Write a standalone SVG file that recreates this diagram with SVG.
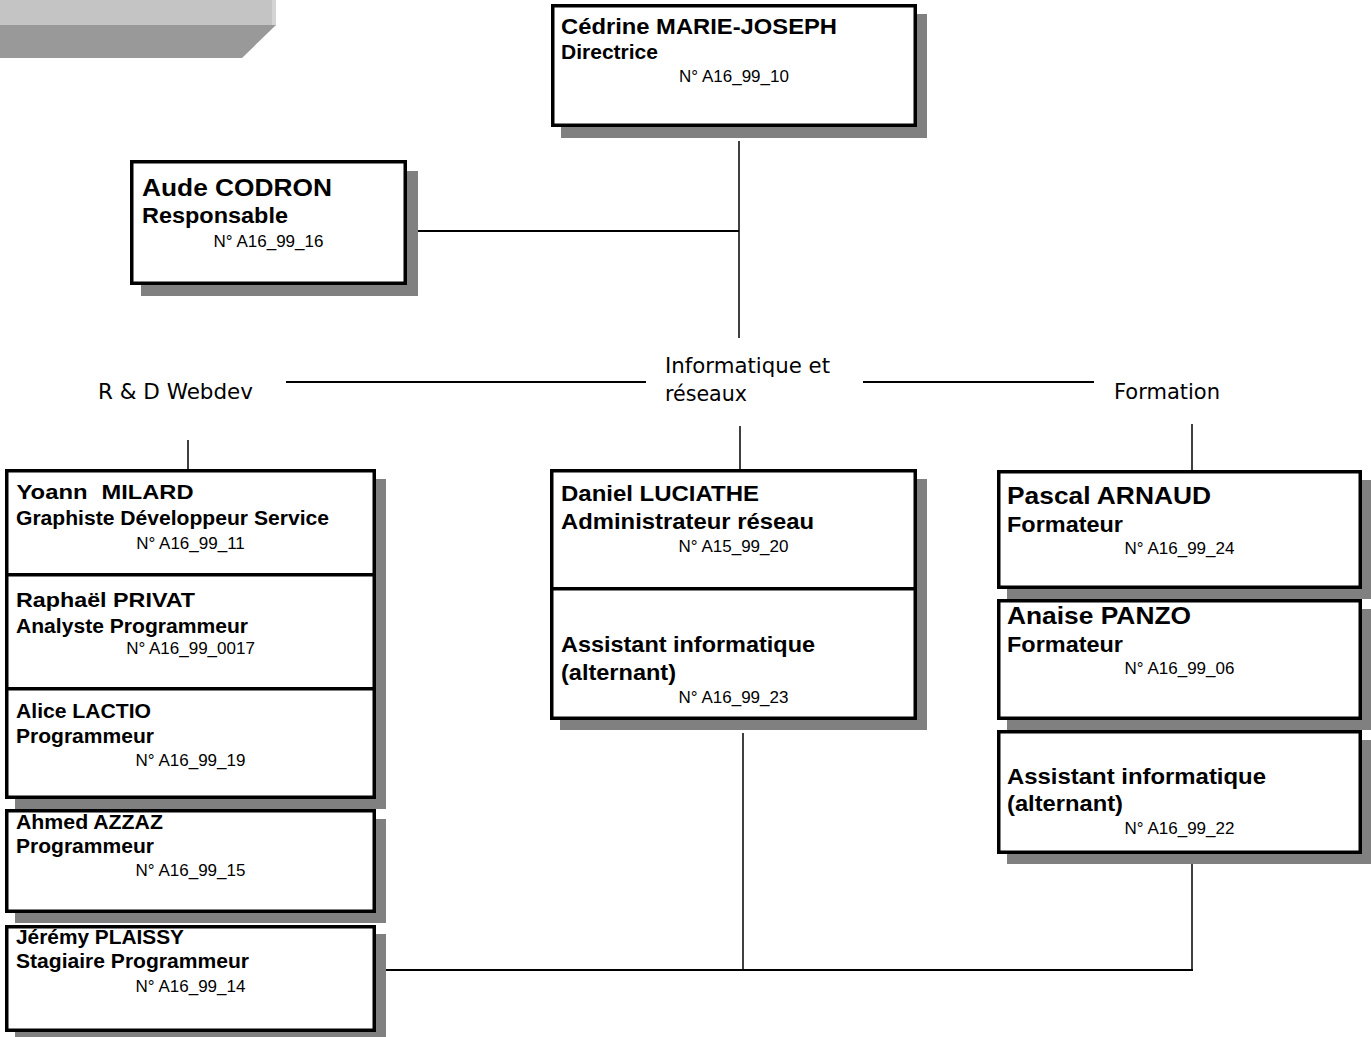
<svg xmlns="http://www.w3.org/2000/svg" width="1371" height="1037" viewBox="0 0 1371 1037">
<style>
.box{fill:#fff;stroke:#000;stroke-width:3.5}
.sh{fill:#808080}
.b{font-family:"Liberation Sans",Arial,sans-serif;font-weight:bold;fill:#000}
.r{font-family:"Liberation Sans",Arial,sans-serif;font-size:17px;fill:#000;text-anchor:middle}
.lbl{font-family:"DejaVu Sans",sans-serif;font-size:21px;fill:#000}
.ln{stroke:#000;stroke-width:2;fill:none}
.lv{stroke:#000;stroke-width:1.5;fill:none}
</style>
<g id="decor">
<rect x="0" y="0" width="276" height="26" fill="#c4c4c4"/>
<rect x="272" y="0" width="4" height="26" fill="#d4d4d4"/>
<polygon points="0,25 276,25 242,58 0,58" fill="#999999"/>
</g>
<g id="connectors">
<line class="lv" x1="739" y1="141" x2="739" y2="338"/>
<line class="ln" x1="407" y1="231" x2="739" y2="231"/>
<line class="ln" x1="286" y1="382" x2="646" y2="382"/>
<line class="ln" x1="863" y1="382" x2="1094" y2="382"/>
<line class="lv" x1="188" y1="440" x2="188" y2="470"/>
<line class="lv" x1="740" y1="426" x2="740" y2="470"/>
<line class="lv" x1="1192" y1="424" x2="1192" y2="470"/>
<line class="lv" x1="743" y1="733" x2="743" y2="970"/>
<line class="lv" x1="1192" y1="864" x2="1192" y2="970"/>
<line class="ln" x1="386" y1="970" x2="1193" y2="970"/>
</g>
<g id="labels">
<text class="lbl" x="98" y="399" textLength="155" lengthAdjust="spacingAndGlyphs">R &amp; D Webdev</text>
<text class="lbl" x="665" y="373" textLength="165" lengthAdjust="spacingAndGlyphs">Informatique et</text>
<text class="lbl" x="665" y="401" textLength="82" lengthAdjust="spacingAndGlyphs">réseaux</text>
<text class="lbl" x="1114" y="399" textLength="106" lengthAdjust="spacingAndGlyphs">Formation</text>
</g>
<g id="node-cedrine">
<rect class="sh" x="561" y="14" width="366" height="124"/>
<rect class="box" x="552.75" y="5.75" width="362.5" height="119.5"/>
<text class="b" x="561" y="34" font-size="22" textLength="276" lengthAdjust="spacingAndGlyphs">Cédrine MARIE-JOSEPH</text>
<text class="b" x="561" y="59" font-size="20" textLength="97" lengthAdjust="spacingAndGlyphs">Directrice</text>
<text class="r" x="734" y="82">N° A16_99_10</text>
</g>
<g id="node-aude">
<rect class="sh" x="141" y="171" width="277" height="125"/>
<rect class="box" x="131.75" y="161.75" width="273.5" height="121.5"/>
<text class="b" x="142" y="196" font-size="24" textLength="190" lengthAdjust="spacingAndGlyphs">Aude CODRON</text>
<text class="b" x="142" y="223" font-size="21.5" textLength="146" lengthAdjust="spacingAndGlyphs">Responsable</text>
<text class="r" x="268.5" y="247">N° A16_99_16</text>
</g>
<g id="node-yoann">
<rect class="sh" x="15" y="479" width="371" height="108"/>
<rect class="box" x="6.75" y="470.75" width="367.5" height="104.5"/>
<text class="b" x="16.5" y="499" font-size="20" textLength="71" lengthAdjust="spacingAndGlyphs">Yoann</text>
<text class="b" x="101.5" y="499" font-size="20" textLength="92" lengthAdjust="spacingAndGlyphs">MILARD</text>
<text class="b" x="16" y="525" font-size="20" textLength="313" lengthAdjust="spacingAndGlyphs">Graphiste Développeur Service</text>
<text class="r" x="190.5" y="549">N° A16_99_11</text>
</g>
<g id="node-raphael">
<rect class="sh" x="15" y="583" width="371" height="118"/>
<rect class="box" x="6.75" y="574.75" width="367.5" height="114.5"/>
<text class="b" x="16" y="607" font-size="20.5" textLength="179" lengthAdjust="spacingAndGlyphs">Raphaël PRIVAT</text>
<text class="b" x="16" y="633" font-size="20" textLength="232" lengthAdjust="spacingAndGlyphs">Analyste Programmeur</text>
<text class="r" x="190.5" y="654">N° A16_99_0017</text>
</g>
<g id="node-alice">
<rect class="sh" x="15" y="697" width="371" height="112"/>
<rect class="box" x="6.75" y="688.75" width="367.5" height="108.5"/>
<text class="b" x="16" y="718" font-size="20" textLength="135" lengthAdjust="spacingAndGlyphs">Alice LACTIO</text>
<text class="b" x="16" y="743" font-size="20" textLength="138" lengthAdjust="spacingAndGlyphs">Programmeur</text>
<text class="r" x="190.5" y="766">N° A16_99_19</text>
</g>
<g id="node-ahmed">
<rect class="sh" x="15" y="819" width="371" height="104"/>
<rect class="box" x="6.75" y="810.75" width="367.5" height="100.5"/>
<text class="b" x="16" y="829" font-size="20" textLength="147" lengthAdjust="spacingAndGlyphs">Ahmed AZZAZ</text>
<text class="b" x="16" y="853" font-size="20" textLength="138" lengthAdjust="spacingAndGlyphs">Programmeur</text>
<text class="r" x="190.5" y="876">N° A16_99_15</text>
</g>
<g id="node-jeremy">
<rect class="sh" x="15" y="934" width="371" height="110"/>
<rect class="box" x="6.75" y="926.75" width="367.5" height="103.5"/>
<text class="b" x="16" y="944" font-size="20" textLength="168" lengthAdjust="spacingAndGlyphs">Jérémy PLAISSY</text>
<text class="b" x="16" y="968" font-size="20" textLength="233" lengthAdjust="spacingAndGlyphs">Stagiaire Programmeur</text>
<text class="r" x="190.5" y="992">N° A16_99_14</text>
</g>
<g id="node-daniel">
<rect class="sh" x="560" y="479" width="367" height="123"/>
<rect class="box" x="551.75" y="470.75" width="363.5" height="119.5"/>
<text class="b" x="561" y="501" font-size="22" textLength="198" lengthAdjust="spacingAndGlyphs">Daniel LUCIATHE</text>
<text class="b" x="561" y="529" font-size="22" textLength="253" lengthAdjust="spacingAndGlyphs">Administrateur réseau</text>
<text class="r" x="733.5" y="552">N° A15_99_20</text>
</g>
<g id="node-assistant-info">
<rect class="sh" x="560" y="597" width="367" height="133"/>
<rect class="box" x="551.75" y="588.75" width="363.5" height="129.5"/>
<text class="b" x="561" y="652" font-size="22" textLength="254" lengthAdjust="spacingAndGlyphs">Assistant informatique</text>
<text class="b" x="561" y="680" font-size="22" textLength="115" lengthAdjust="spacingAndGlyphs">(alternant)</text>
<text class="r" x="733.5" y="703">N° A16_99_23</text>
</g>
<g id="node-pascal">
<rect class="sh" x="1007" y="480" width="365" height="119"/>
<rect class="box" x="998.75" y="471.75" width="361.5" height="115.5"/>
<text class="b" x="1007" y="504" font-size="24" textLength="204" lengthAdjust="spacingAndGlyphs">Pascal ARNAUD</text>
<text class="b" x="1007" y="532" font-size="21.5" textLength="116" lengthAdjust="spacingAndGlyphs">Formateur</text>
<text class="r" x="1179.5" y="554">N° A16_99_24</text>
</g>
<g id="node-anaise">
<rect class="sh" x="1007" y="609" width="365" height="121"/>
<rect class="box" x="998.75" y="600.75" width="361.5" height="117.5"/>
<text class="b" x="1007" y="624" font-size="24" textLength="184" lengthAdjust="spacingAndGlyphs">Anaise PANZO</text>
<text class="b" x="1007" y="652" font-size="21.5" textLength="116" lengthAdjust="spacingAndGlyphs">Formateur</text>
<text class="r" x="1179.5" y="674">N° A16_99_06</text>
</g>
<g id="node-assistant-form">
<rect class="sh" x="1007" y="740" width="365" height="124"/>
<rect class="box" x="998.75" y="731.75" width="361.5" height="120.5"/>
<text class="b" x="1007" y="784" font-size="22" textLength="259" lengthAdjust="spacingAndGlyphs">Assistant informatique</text>
<text class="b" x="1007" y="811" font-size="22" textLength="116" lengthAdjust="spacingAndGlyphs">(alternant)</text>
<text class="r" x="1179.5" y="834">N° A16_99_22</text>
</g>
</svg>
